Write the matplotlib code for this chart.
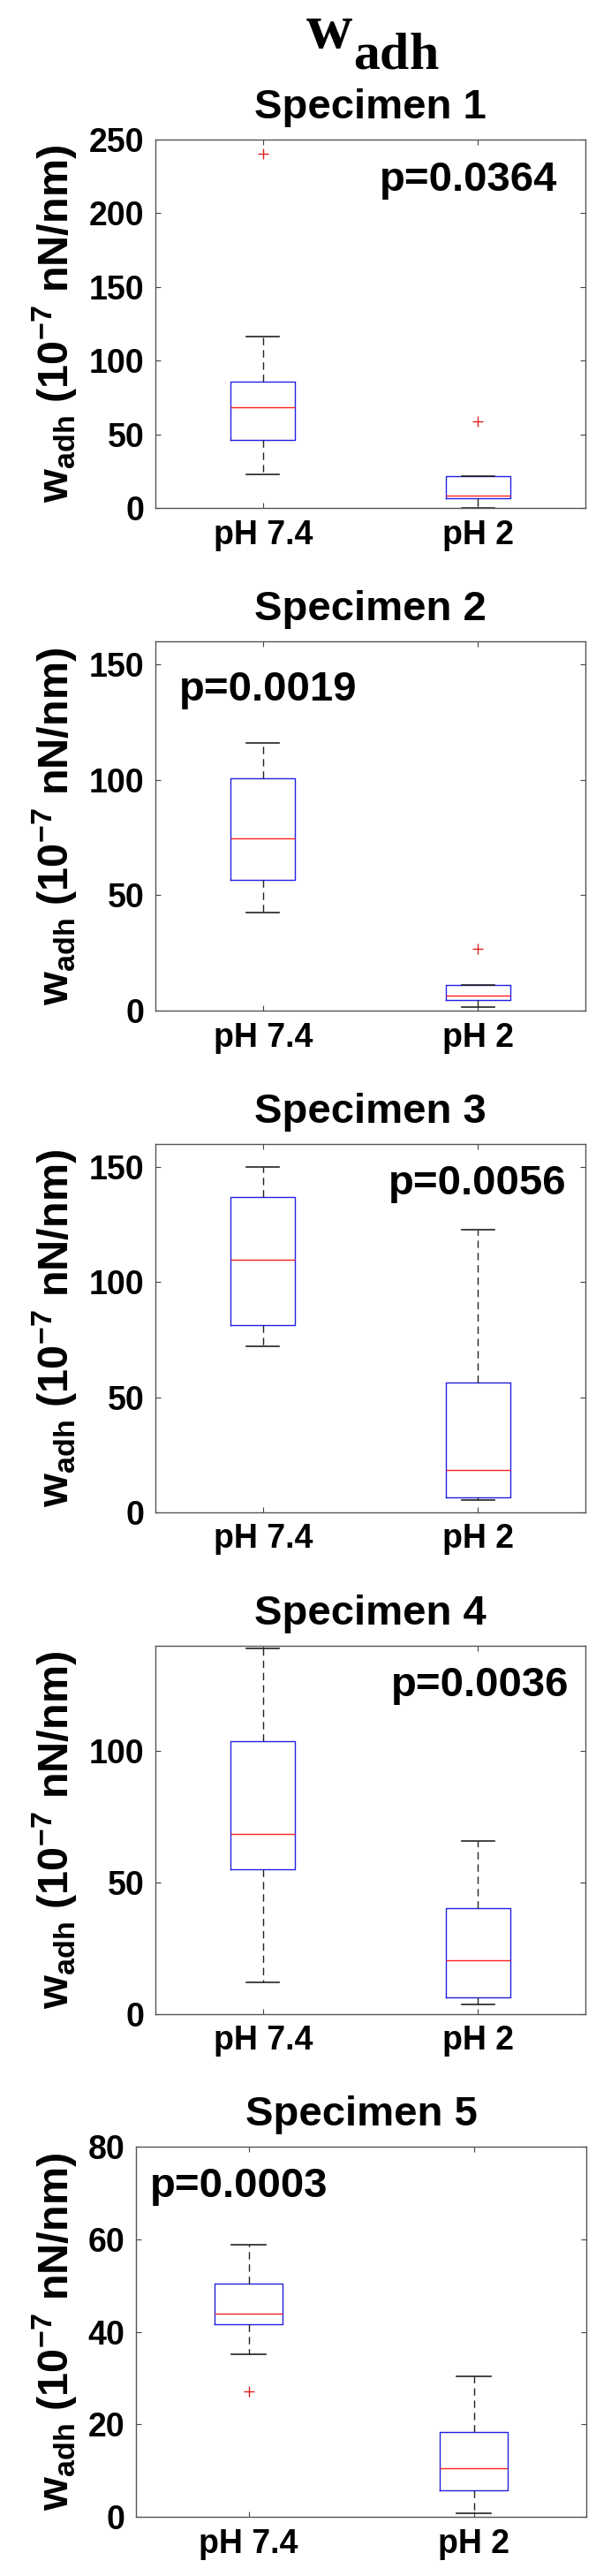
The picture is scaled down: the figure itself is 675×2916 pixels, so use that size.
import numpy as np
import matplotlib
matplotlib.use("Agg")
import matplotlib.pyplot as plt

plt.rcParams['font.family'] = ['Liberation Sans', 'DejaVu Sans']
plt.rcParams['font.weight'] = 'bold'
plt.rcParams['mathtext.fontset'] = 'custom'
plt.rcParams['mathtext.bf'] = 'Liberation Sans:bold'
plt.rcParams['mathtext.rm'] = 'Liberation Sans:bold'
plt.rcParams['mathtext.it'] = 'Liberation Serif:bold'   # used for the big title only

# data (10^-7 nN/nm)
categories = ['pH 7.4', 'pH 2']
specimens = ['Specimen 1', 'Specimen 2', 'Specimen 3', 'Specimen 4', 'Specimen 5']
p_values = ['p=0.0364', 'p=0.0019', 'p=0.0056', 'p=0.0036', 'p=0.0003']

med = [[68.6, 8.4], [74.6, 6.6], [109.7, 18.5], [68.5, 20.4], [43.9, 10.5]]
q1 = [[46.3, 6.4], [56.6, 4.6], [81.5, 6.6], [54.9, 6.3], [41.6, 5.8]]
q3 = [[85.6, 21.6], [100.7, 11.1], [136.9, 56.5], [103.9, 40.2], [50.4, 18.3]]
whislo = [[22.5, 0.2], [42.5, 1.5], [72.1, 5.4], [12.0, 3.6], [35.2, 0.8]]
whishi = [[116.6, 21.6], [115.9, 11.1], [150.0, 122.9], [139.0, 65.8], [58.8, 30.4]]
fliers = [[[240.4], [58.8]], [[], [26.8]], [[], []], [[], []], [[27.1], []]]

ymax = [250, 160, 160, 140, 80]
ystep = [50, 50, 50, 50, 20]

# layout in pixels: left, right, top, bottom
W, H = 675, 2916
boxes_px = [(176, 663, 158, 575), (176, 663, 726, 1144), (176, 663, 1295, 1712),
            (176, 663, 1863, 2280), (154, 664, 2430, 2849)]
# p text: x in axes fraction, ha, baseline in axes fraction
ptext_pos = [(0.934, 'right', 0.86), (0.055, 'left', 0.84), (0.957, 'right', 0.864),
             (0.961, 'right', 0.864), (0.031, 'left', 0.865)]

fig = plt.figure(figsize=(W / 100, H / 100), dpi=100)

# main title w_adh (serif bold)
fig.text(400 / W, 1 - 54 / H, r'$\mathit{w}$', fontsize=52, ha='right', va='baseline')
fig.text(400 / W, 1 - 78 / H, r'$\mathit{adh}$', fontsize=43, ha='left', va='baseline')

for i in range(5):
    l, r, t, b = boxes_px[i]
    ax = fig.add_axes([l / W, 1 - b / H, (r - l) / W, (b - t) / H])

    stats = []
    for j in range(2):
        stats.append(dict(med=med[i][j], q1=q1[i][j], q3=q3[i][j],
                          whislo=whislo[i][j], whishi=whishi[i][j],
                          fliers=fliers[i][j], label=categories[j]))

    ax.bxp(stats, positions=[1, 2], widths=0.3, capwidths=0.15,
           boxprops=dict(color='#2020e0', lw=1.0),
           medianprops=dict(color='#ff2020', lw=1.0),
           whiskerprops=dict(color='#222222', lw=1.0, linestyle=(0, (6, 4))),
           capprops=dict(color='#222222', lw=1.2),
           flierprops=dict(marker='+', markeredgecolor='#dd2020', markersize=8,
                           markeredgewidth=1.0, linestyle='none'))

    ax.set_xlim(0.5, 2.5)
    ax.set_ylim(0, ymax[i])
    ax.set_yticks(np.arange(0, ymax[i] + 1, ystep[i]))
    ax.set_xticks([1, 2])
    ax.set_xticklabels(categories)
    ax.tick_params(direction='in', length=4, width=0.8, color='#444444',
                   top=True, right=True, labelsize=27, pad=9)
    for sp in ax.spines.values():
        sp.set_color('#555555')
        sp.set_linewidth(1.0)

    ax.set_title(specimens[i], fontsize=34, fontweight='bold', pad=17)
    ax.set_ylabel(r'$\mathbf{w_{adh}\ (10^{-7}\ nN/nm)}$', fontsize=35)
    ax.yaxis.set_label_coords((90 - l) / (r - l), 0.5)

    px, ha, py = ptext_pos[i]
    ax.text(px, py, p_values[i], transform=ax.transAxes, fontsize=34,
            fontweight='bold', ha=ha, va='baseline')

fig.savefig('out.png', dpi=100)
